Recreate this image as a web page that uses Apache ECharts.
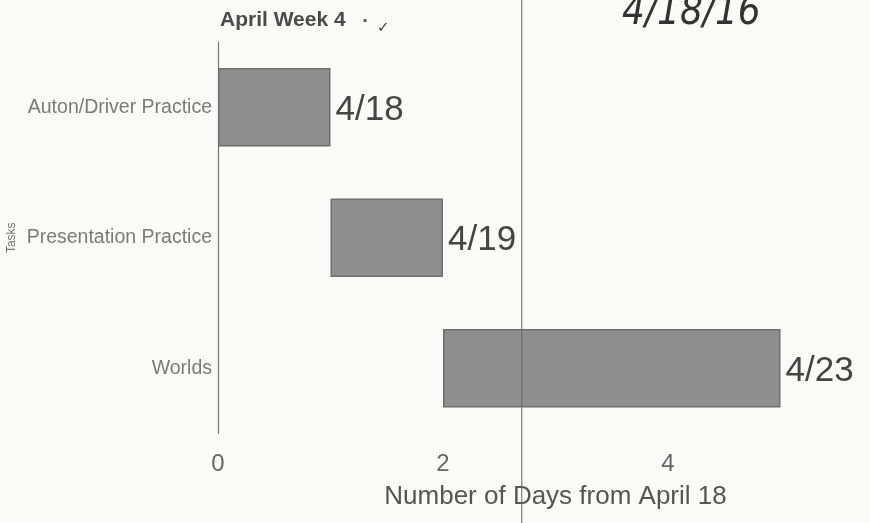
<!DOCTYPE html>
<html>
<head>
<meta charset="utf-8">
<script src="https://cdn.jsdelivr.net/npm/echarts@6/dist/echarts.min.js"></script>
<style>
  html, body { margin: 0; padding: 0; background: #fafaf9; }
  #chart { width: 870px; height: 523px; }
</style>
</head>
<body>
<div id="chart"></div>
<script>
// Task schedule for the week, in days counted from April 18
const tasks = ['Auton/Driver Practice', 'Presentation Practice', 'Worlds'];
const startDay = [0, 1, 2];
const duration = [1, 1, 3];
const dateLabels = ['4/18', '4/19', '4/23'];
const xTicks = [0, 2, 4, 6];
const foldAt = 2.7;   // crease line across the printed page
const handDate = '4/18/16';

const FONT = 'Liberation Sans, Arial, sans-serif';
const chart = echarts.init(document.getElementById('chart'), null, { renderer: 'canvas' });

const option = {
  backgroundColor: '#fafaf9',
  animation: false,
  title: {
    text: 'April Week 4',
    left: 215, top: 5,
    textStyle: { fontFamily: FONT, fontSize: 21, fontWeight: 'bold', color: '#4a4a4a' }
  },
  // the axis runs to day 6; the page is trimmed just before that
  grid: { left: 218, right: -23, top: 42, bottom: 89.5, outerBoundsMode: 'none', containLabel: false },
  xAxis: {
    type: 'value',
    min: 0, max: 6, interval: 2,
    name: 'Number of Days from April 18',
    nameLocation: 'middle', nameGap: 50,
    nameTextStyle: { fontFamily: FONT, fontSize: 26, color: '#555' },
    axisLine: { show: false },
    axisTick: { show: false },
    splitLine: { show: false },
    axisLabel: {
      margin: 19,
      fontFamily: FONT, fontSize: 24, color: '#666',
      formatter: v => xTicks.includes(v) ? String(v) : ''
    }
  },
  yAxis: {
    type: 'category',
    data: tasks,
    inverse: true,
    name: 'Tasks',
    nameLocation: 'middle', nameGap: 200, nameRotate: 90,
    nameMoveOverlap: false,
    nameTextStyle: { fontFamily: FONT, fontSize: 12, color: '#777' },
    axisLine: { show: true, lineStyle: { color: '#777', width: 1.2 } },
    axisTick: { show: false },
    axisLabel: { margin: 6, fontFamily: FONT, fontSize: 19.5, color: '#7a7a7a' }
  },
  series: [
    {
      type: 'bar',
      stack: 'gantt',
      data: startDay,
      itemStyle: { color: 'transparent' },
      silent: true,
      barWidth: '60%'
    },
    {
      type: 'bar',
      stack: 'gantt',
      data: duration,
      barWidth: '60%',
      itemStyle: { color: '#8e8e8e', borderColor: '#6e6e6e', borderWidth: 1.5 },
      label: {
        show: true,
        position: 'right',
        distance: 5,
        offset: [0, 3],
        fontFamily: FONT,
        fontSize: 35,
        color: '#444',
        formatter: p => dateLabels[p.dataIndex]
      }
    }
  ]
};

chart.setOption(option);

// Crease line and handwritten notes on the page
const foldX = chart.convertToPixel({ xAxisIndex: 0 }, foldAt);
chart.setOption({
  graphic: [
    {
      type: 'line',
      shape: { x1: foldX, y1: 0, x2: foldX, y2: 523 },
      style: { stroke: '#666', lineWidth: 1 },
      z: 100
    },
    {
      type: 'text',
      left: 622, top: -6,
      style: {
        text: handDate,
        font: 'italic 200 40px "DejaVu Sans Condensed", "DejaVu Sans", sans-serif',
        fill: '#333'
      }
    },
    {
      type: 'text',
      left: 377, top: 21,
      style: { text: '✓', font: 'italic 15px "DejaVu Sans"', fill: '#444' }
    },
    {
      type: 'text',
      left: 362, top: 14,
      style: { text: '·', font: 'bold 16px "DejaVu Sans"', fill: '#555' }
    }
  ]
});
</script>
</body>
</html>
